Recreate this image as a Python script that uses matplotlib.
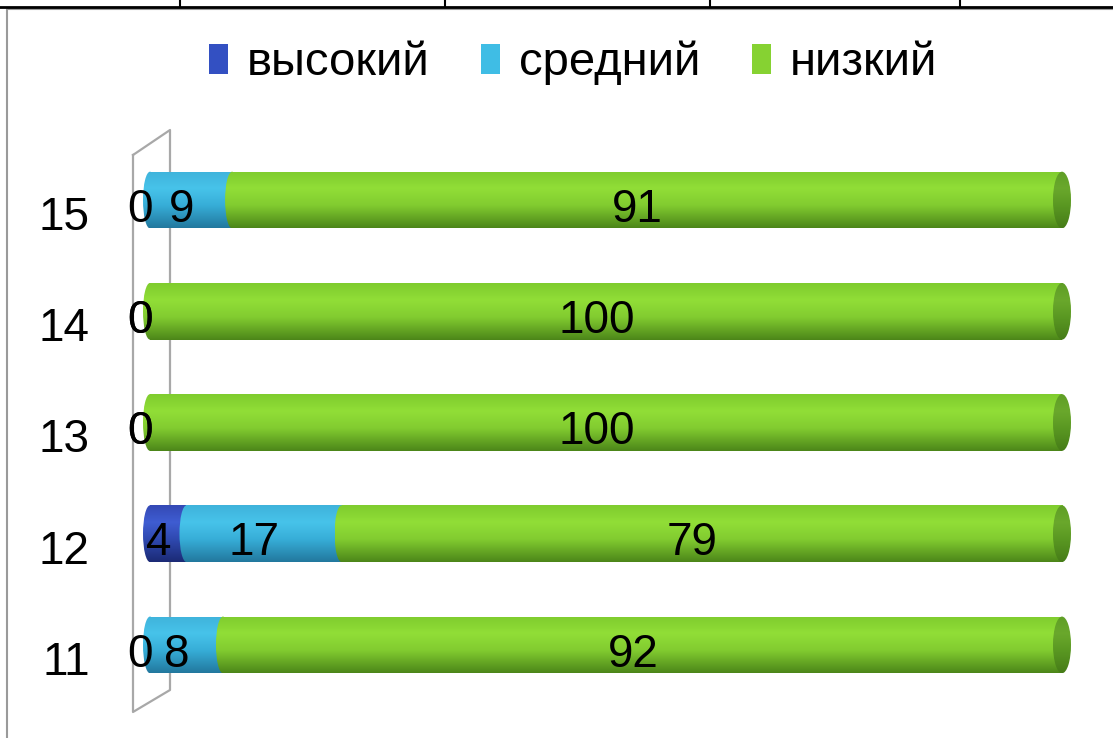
import matplotlib.pyplot as plt
import numpy as np
from matplotlib.colors import LinearSegmentedColormap
from matplotlib.patches import Ellipse, Rectangle
from matplotlib.lines import Line2D
from matplotlib.transforms import ScaledTranslation

plt.rcParams['font.family'] = ['Liberation Sans', 'DejaVu Sans']

# данные: классы и доли уровней (%)
classes = ['11', '12', '13', '14', '15']
series = ['высокий', 'средний', 'низкий']
vysokiy = [0, 4, 0, 0, 0]
sredniy = [8, 17, 0, 0, 9]
nizkiy = [92, 79, 100, 100, 91]
values = [vysokiy, sredniy, nizkiy]

# цвета цилиндров: верх, блик, середина, низ
palette = [
    ['#3449b5', '#3f5dd2', '#2f49b0', '#1b2a75'],
    ['#3fb3db', '#47c3ea', '#37aed8', '#22789e'],
    ['#7fcc2e', '#91de37', '#82cc30', '#4c8619'],
]
legend_colors = ['#3350c2', '#3fbde5', '#86d232']
cap_palette = ['#5f9e26', '#6aa82c', '#5a9822', '#467c18']

W, H = 1113, 738
fig = plt.figure(figsize=(W / 100, H / 100), dpi=100)

# оси: 0% -> 150 px, 100% -> 1062 px
ax_l, ax_r = 130, 1100
ppu = (1062 - 150) / 100
ax = fig.add_axes([ax_l / W, 23 / H, (ax_r - ax_l) / W, 585 / H])
ax.patch.set_visible(False)
for s in ax.spines.values():
    s.set_visible(False)

grad = np.linspace(0, 1, 128).reshape(-1, 1)


def make_cmap(cols):
    return LinearSegmentedColormap.from_list(
        'c', list(zip([0.0, 0.3, 0.6, 1.0], cols)))


def shade(patch, cmap, extent, z):
    ax.add_patch(patch)
    im = ax.imshow(grad, cmap=cmap, extent=extent, origin='upper',
                   aspect='auto', zorder=z, interpolation='bilinear')
    im.set_clip_path(patch)


y = np.arange(len(classes))
bar_h = 0.51
cap_w = 14 / ppu
left = np.zeros(len(classes))
for i, vals in enumerate(values):
    bars = ax.barh(y, vals, left=left, height=bar_h, color='none',
                   edgecolor='none')
    cmap = make_cmap(palette[i])
    for b, v in zip(bars, vals):
        x0, w = b.get_x(), b.get_width()
        y0, h = b.get_y(), b.get_height()
        yc = y0 + h / 2
        if w > 0:
            z = 2 + i * 0.1
            shade(Rectangle((x0, y0), w, h, fc='none', ec='none'), cmap,
                  (x0, x0 + w, y0, y0 + h), z)
            shade(Ellipse((x0, yc), cap_w, h, fc='none', ec='none'), cmap,
                  (x0 - cap_w / 2, x0 + cap_w / 2, y0, y0 + h), z + 0.01)
        ax.annotate(str(v), (x0 + w / 2, yc), xytext=(-7, -7),
                    textcoords='offset points', ha='center', va='center',
                    fontsize=33, zorder=5)
    left += np.array(vals)

# торцы справа
end_w = 18 / ppu
cap_cmap = make_cmap(cap_palette)
for yi, tot in zip(y, left):
    shade(Ellipse((tot, yi), end_w, bar_h, fc='none', ec='none'), cap_cmap,
          (tot - end_w / 2, tot + end_w / 2, yi - bar_h / 2, yi + bar_h / 2), 3)

ax.set_xlim(-(150 - ax_l) / ppu, (ax_r - 150) / ppu)
ax.set_ylim(-0.63, 4.63)
ax.set_xticks([])
ax.set_yticks(y, classes, va='top')
ax.tick_params(axis='y', length=0, pad=29, labelsize=33)
shift = ScaledTranslation(0, 4 / 100, fig.dpi_scale_trans)
for lbl in ax.get_yticklabels():
    lbl.set_transform(lbl.get_transform() + shift)


def fx(px):
    return px / W


def fy(py):
    return 1 - py / H


# "стенка" 3D-диаграммы
wall = [(133, 155), (170, 130), (170, 690), (133, 712), (133, 155)]
fig.add_artist(Line2D([fx(p[0]) for p in wall], [fy(p[1]) for p in wall],
                      color='#a8a8a8', lw=1.6, zorder=-1))

# рамка и линии таблицы
fig.add_artist(Line2D([fx(7), fx(7), fx(W)], [fy(H), fy(9), fy(9)],
                      color='#9a9a9a', lw=1.5))
fig.add_artist(Line2D([0, 1], [fy(7), fy(7)], color='black', lw=2))
for xv in [180, 445, 710, 960]:
    fig.add_artist(Line2D([fx(xv), fx(xv)], [1, fy(7)], color='black', lw=1.5))

handles = [Rectangle((0, 0), 1, 1, fc=c, ec='none') for c in legend_colors]
fig.legend(handles, series, loc='center', bbox_to_anchor=(573 / W, fy(63)),
           ncol=3, frameon=False, fontsize=34, handlelength=0.4,
           handleheight=0.6, handletextpad=0.4, columnspacing=1.1)

fig.savefig('out.png', dpi=100)
